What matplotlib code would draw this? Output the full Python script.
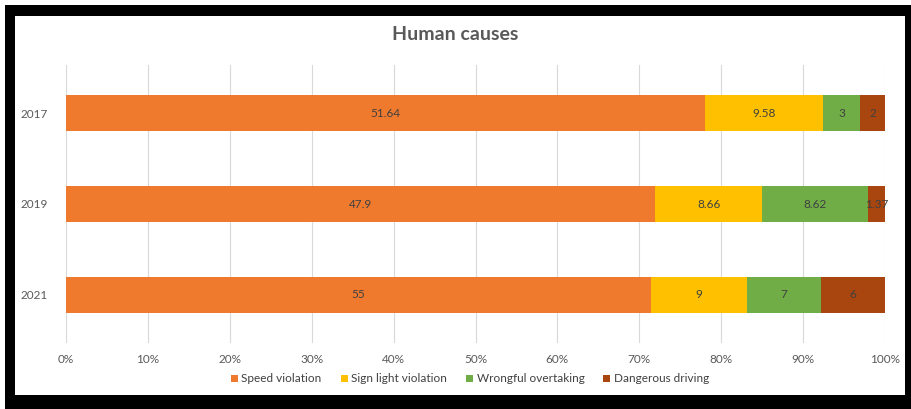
import numpy as np
import matplotlib.pyplot as plt
from matplotlib.patches import Rectangle

# data
years = ["2017", "2019", "2021"]
speed = [51.64, 47.9, 55]
sign_light = [9.58, 8.66, 9]
overtaking = [3, 8.62, 7]
dangerous = [2, 1.37, 6]

series_names = ["Speed violation", "Sign light violation",
                "Wrongful overtaking", "Dangerous driving"]
colors = ["#EF7A2E", "#FFC000", "#70AD47", "#A9460F"]

plt.rcParams['font.family'] = ['Lato', 'DejaVu Sans']

fig = plt.figure(figsize=(9.11, 4.09), dpi=100)
W, H = 911, 409

# black frame around the chart
fig.patches.append(Rectangle((5 / W, 0), 1 - 5 / W, 1 - 5 / H, transform=fig.transFigure,
                             facecolor="black", edgecolor="none", zorder=-2))
fig.patches.append(Rectangle((15 / W, 14 / H), (905 - 15) / W, (394 - 15) / H,
                             transform=fig.transFigure, facecolor="white",
                             edgecolor="none", zorder=-1))

ax = fig.add_axes([66 / W, 66 / H, (885 - 66) / W, (344 - 66) / H])
ax.set_facecolor("none")
ax.set_zorder(2)

data = np.array([speed, sign_light, overtaking, dangerous], dtype=float)
totals = data.sum(axis=0)
shares = data / totals * 100

y = np.arange(len(years))
left = np.zeros(len(years))
for i, name in enumerate(series_names):
    ax.barh(y, shares[i], left=left, height=0.4, color=colors[i], label=name, zorder=2)
    for j in range(len(years)):
        ax.text(left[j] + shares[i][j] / 2, y[j], f"{data[i][j]:g}",
                ha="center", va="center", fontsize=8.5, color="#404040", zorder=3)
    left += shares[i]

ax.set_xlim(0, 100)
ax.set_ylim(2.53, -0.53)
ax.set_xticks(np.arange(0, 101, 10))
ax.set_xticklabels([f"{v}%" for v in range(0, 101, 10)])
ax.set_yticks(y)
ax.set_yticklabels(years)
ax.tick_params(length=0, labelsize=8.5, labelcolor="#595959")
ax.tick_params(axis="x", pad=8)
ax.tick_params(axis="y", pad=13)
ax.grid(axis="x", color="#D9D9D9", linewidth=0.8, zorder=0)
ax.set_axisbelow(True)
for s in ax.spines.values():
    s.set_visible(False)

fig.text(0.5, 1 - 35 / H, "Human causes", ha="center", va="center",
         fontsize=14, fontweight="bold", color="#595959")

leg = fig.legend(loc="center", bbox_to_anchor=(470 / W, 1 - 379 / H), ncol=4,
                 frameon=False, fontsize=8.5, handlelength=0.6, handleheight=0.6,
                 handletextpad=0.3, columnspacing=1.6)
for t in leg.get_texts():
    t.set_color("#404040")

fig.savefig("out.png", dpi=100)
